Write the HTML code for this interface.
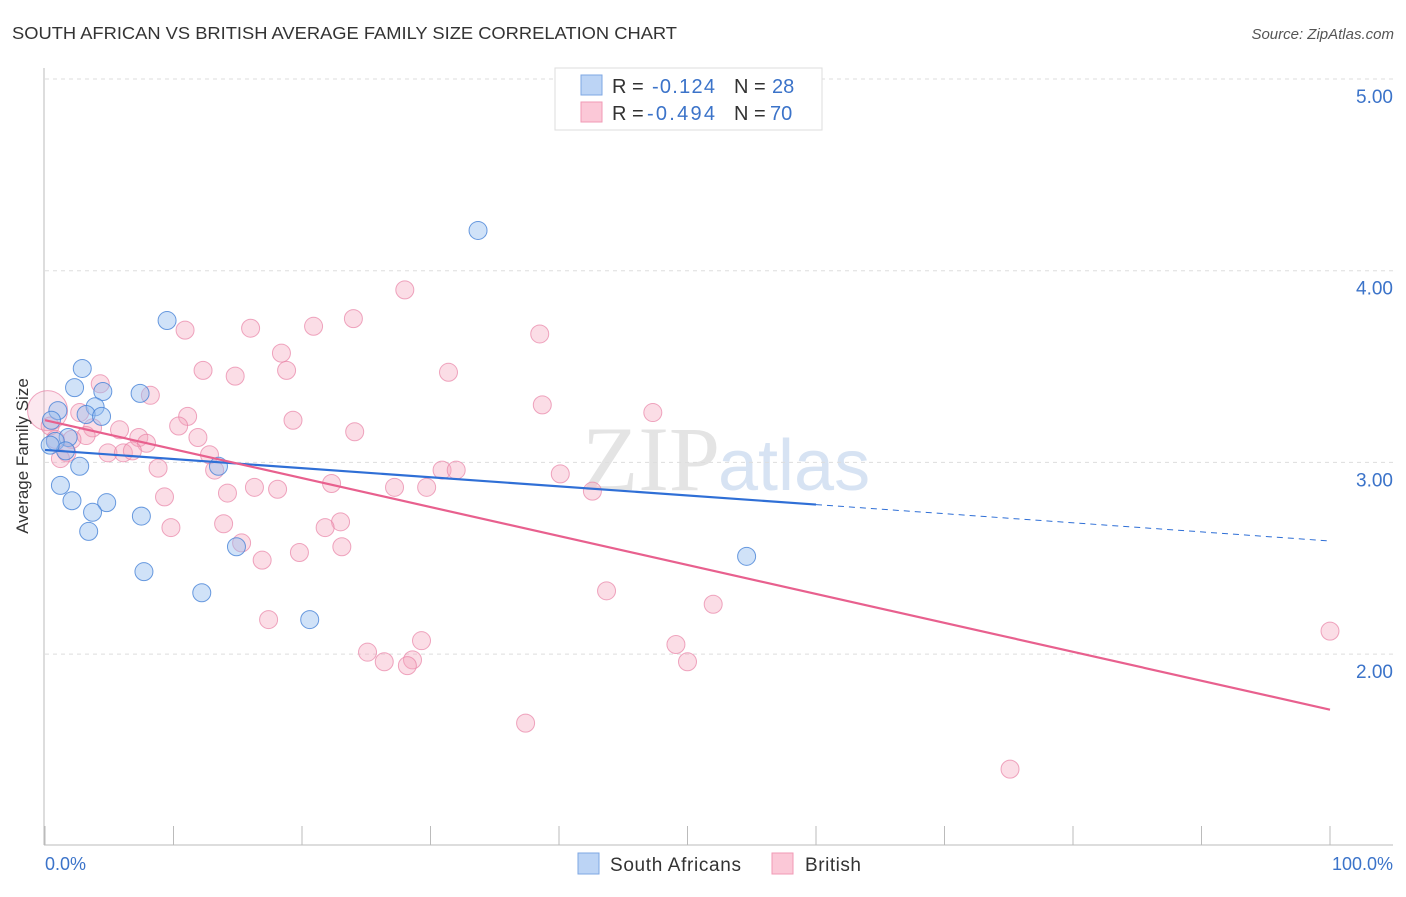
<!DOCTYPE html>
<html><head><meta charset="utf-8"><style>
body{margin:0;background:#fff;font-family:"Liberation Sans",sans-serif}
</style></head><body>
<svg width="1406" height="892" viewBox="0 0 1406 892" xmlns="http://www.w3.org/2000/svg">
<text x="12" y="39" font-size="17.5" fill="#333" textLength="665" lengthAdjust="spacingAndGlyphs">SOUTH AFRICAN VS BRITISH AVERAGE FAMILY SIZE CORRELATION CHART</text>
<text x="1394" y="39" font-size="15" fill="#555" font-style="italic" text-anchor="end">Source: ZipAtlas.com</text>
<text x="720" y="490" font-size="92" fill="#e4e4e4" text-anchor="end" font-family="Liberation Serif">ZIP</text>
<text x="718" y="490" font-size="72" fill="#d7e3f3">atlas</text>
<g id="grid"></g>
<g id="axes"></g>
<g id="pts"></g>
<g id="trends"></g>
<text x="28" y="456" font-size="17" fill="#333" text-anchor="middle" transform="rotate(-90 28 456)">Average Family Size</text>
<text x="45" y="870" font-size="18" fill="#3b73c9">0.0%</text>
<text x="1393" y="870" font-size="18" fill="#3b73c9" text-anchor="end">100.0%</text>
<g>
<rect x="555" y="68" width="267" height="62" fill="#fff" stroke="#ddd"/>
<rect x="581" y="75" width="21" height="20" fill="#bcd4f5" stroke="#7ea7e3"/>
<rect x="581" y="102" width="21" height="20" fill="#fbc8d7" stroke="#f09ab5"/>
<text x="612" y="93" font-size="20" fill="#333">R = </text><text x="652" y="93" font-size="20" fill="#3b73c9" textLength="63">-0.124</text>
<text x="734" y="93" font-size="20" fill="#333">N = </text><text x="772" y="93" font-size="20" fill="#3b73c9">28</text>
<text x="612" y="120" font-size="20" fill="#333">R = </text><text x="647" y="120" font-size="20" fill="#3b73c9" textLength="68">-0.494</text>
<text x="734" y="120" font-size="20" fill="#333">N = </text><text x="770" y="120" font-size="20" fill="#3b73c9">70</text>
</g>
<g>
<rect x="578" y="853" width="21" height="21" fill="#bcd4f5" stroke="#7ea7e3"/>
<text x="610" y="871" font-size="19" fill="#333" textLength="131">South Africans</text>
<rect x="772" y="853" width="21" height="21" fill="#fbc8d7" stroke="#f09ab5"/>
<text x="805" y="871" font-size="19" fill="#333" textLength="56">British</text>
</g>
</svg>
<script>
const yTicks=[5,4,3,2];
const yTickLabels=["5.00","4.00","3.00","2.00"];
const blueX=[33.7,9.5,2.9,2.3,4.5,7.4,3.9,1.0,3.2,4.4,0.5,1.8,0.8,1.6,2.7,13.5,1.2,2.1,4.8,3.7,7.5,3.4,14.9,54.6,7.7,12.2,20.6,0.4];
const blueY=[4.21,3.74,3.49,3.39,3.37,3.36,3.29,3.27,3.25,3.24,3.22,3.13,3.11,3.06,2.98,2.98,2.88,2.80,2.79,2.74,2.72,2.64,2.56,2.51,2.43,2.32,2.18,3.09];
const pinkX=[28.0,10.9,16.0,20.9,24.0,38.5,18.4,12.3,18.8,14.8,31.4,4.3,8.2,38.7,47.3,11.1,2.7,19.3,10.4,3.7,5.8,24.1,7.3,3.2,11.9,2.1,7.9,4.9,6.1,6.8,12.8,1.7,1.2,8.8,13.2,30.9,32.0,40.1,22.3,16.3,18.1,14.2,27.2,29.7,9.3,42.6,23.0,21.8,13.9,9.8,15.3,23.1,19.8,16.9,43.7,52.0,17.4,29.3,49.1,25.1,26.4,28.6,28.2,50.0,37.4,75.1,100,0.2,0.4,0.8];
const pinkY=[3.90,3.69,3.70,3.71,3.75,3.67,3.57,3.48,3.48,3.45,3.47,3.41,3.35,3.30,3.26,3.24,3.26,3.22,3.19,3.18,3.17,3.16,3.13,3.14,3.13,3.12,3.10,3.05,3.05,3.06,3.04,3.05,3.02,2.97,2.96,2.96,2.96,2.94,2.89,2.87,2.86,2.84,2.87,2.87,2.82,2.85,2.69,2.66,2.68,2.66,2.58,2.56,2.53,2.49,2.33,2.26,2.18,2.07,2.05,2.01,1.96,1.97,1.94,1.96,1.64,1.40,2.12,3.27,3.19,3.12];
const blueTrend=[3.065,2.78,2.59];
const pinkTrend=[3.22,1.71];
const NS="http://www.w3.org/2000/svg";
const xs=v=>45+v*12.85;
const ys=v=>79+(5-v)*191.7;
function mk(parent,tag,attrs){const e=document.createElementNS(NS,tag);for(const k in attrs)e.setAttribute(k,attrs[k]);parent.appendChild(e);return e;}
const grid=document.getElementById('grid');
yTicks.forEach((t,i)=>{
  const l=mk(grid,'line',{x1:45,x2:1393,y1:ys(t),y2:ys(t),stroke:'#ddd','stroke-dasharray':'4,4'});
  
  
  const tx=mk(grid,'text',{x:1393,y:ys(t)+24,'font-size':19,fill:'#3b73c9','text-anchor':'end'});
  tx.textContent=yTickLabels[i];
  
  
});
const axes=document.getElementById('axes');
const ya=mk(axes,'line',{x1:44,x2:44,y1:68,y2:845,stroke:'#bbb'});


const xa=mk(axes,'line',{x1:44,x2:1393,y1:845,y2:845,stroke:'#bbb'});


for(let i=0;i<=10;i++){
  const t=mk(axes,'line',{x1:xs(i*10),x2:xs(i*10),y1:826,y2:845,stroke:'#bbb'});
  
  
}
const pts=document.getElementById('pts');
pinkX.forEach((x,i)=>{
  const c=mk(pts,'circle',{cx:xs(x),cy:ys(pinkY[i]),r:i===67?20:9,fill:i===67?'rgba(245,165,190,0.25)':'rgba(245,165,190,0.38)',stroke:'rgba(232,130,165,0.7)','stroke-width':1});
  
  
});
blueX.forEach((x,i)=>{
  const c=mk(pts,'circle',{cx:xs(x),cy:ys(blueY[i]),r:9,fill:'rgba(150,190,240,0.45)',stroke:'rgba(70,130,215,0.8)','stroke-width':1});
  
  
});
const tr=document.getElementById('trends');
const b1=mk(tr,'line',{x1:xs(0),y1:ys(blueTrend[0]),x2:xs(60),y2:ys(blueTrend[1]),stroke:'#2f6fd6','stroke-width':2.2});


const b2=mk(tr,'line',{x1:xs(60),y1:ys(blueTrend[1]),x2:xs(100),y2:ys(blueTrend[2]),stroke:'#2f6fd6','stroke-width':1,'stroke-dasharray':'6,5'});


const p1=mk(tr,'line',{x1:xs(0),y1:ys(pinkTrend[0]),x2:xs(100),y2:ys(pinkTrend[1]),stroke:'#e8608e','stroke-width':2.2});


</script>
</body></html>
